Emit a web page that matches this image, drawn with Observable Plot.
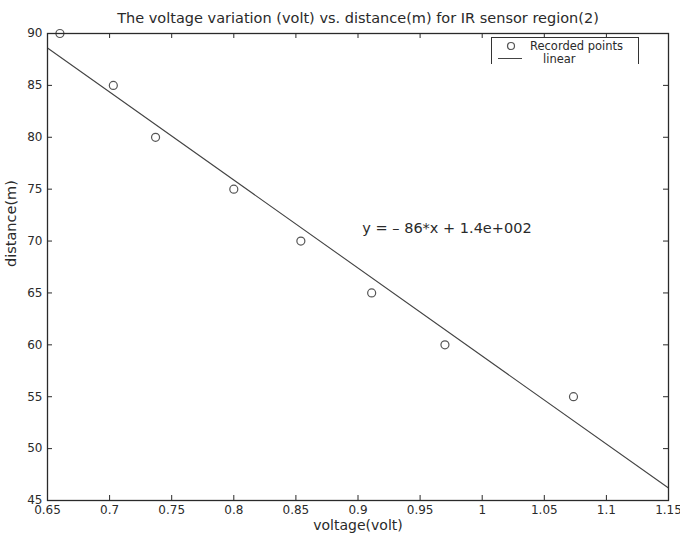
<!DOCTYPE html>
<html><head><meta charset="utf-8">
<script src="https://cdn.jsdelivr.net/npm/d3@7"></script>
<script src="https://cdn.jsdelivr.net/npm/@observablehq/plot@0.6"></script>
<style>
body{margin:0;background:#fff;font-family:"DejaVu Sans",sans-serif}
#wrap{position:relative;width:680px;height:539px}
#legend{position:absolute;left:491px;top:37px;width:146px;height:26px;border:1px solid #333;border-bottom:none;background:#fff;color:#222}
</style>
</head><body><div id="wrap"><div id="chart"></div><div id="legend"></div></div>
<script>
// data
const voltage = [0.66, 0.703, 0.737, 0.80, 0.854, 0.911, 0.970, 1.0735];
const distance = [90, 85, 80, 75, 70, 65, 60, 55];
const fitVoltage = [0.65, 1.15];
const fitDistance = [88.6, 46.2];
const xTicks = [0.65, 0.7, 0.75, 0.8, 0.85, 0.9, 0.95, 1, 1.05, 1.1, 1.15];
const xTickLabels = ["0.65","0.7","0.75","0.8","0.85","0.9","0.95","1","1.05","1.1","1.15"];
const yTicks = [45, 50, 55, 60, 65, 70, 75, 80, 85, 90];
const yTickLabels = ["45","50","55","60","65","70","75","80","85","90"];
const titleText = "The voltage variation (volt) vs. distance(m) for IR sensor region(2)";
const xLabel = "voltage(volt)";
const yLabel = "distance(m)";
const equationText = "y = \u2013 86*x + 1.4e+002";
const equationX = 0.9035;
const equationY = 71.2;
const legendLabels = ["Recorded points", "linear"];

const points = voltage.map((v, i) => ({v, d: distance[i]}));
const fit = fitVoltage.map((v, i) => ({v, d: fitDistance[i]}));

const W = 680, H = 539, mt = 33, mb = 39, ml = 47, mr = 12;
const ph = H - mt - mb, pw = W - ml - mr;
const ink = "#2a2a2a";
const font = "'DejaVu Sans', sans-serif";

const chart = Plot.plot({
  width: W, height: H,
  marginTop: mt, marginBottom: mb, marginLeft: ml, marginRight: mr,
  x: {domain: [0.65, 1.15]},
  y: {domain: [45, 90]},
  style: {fontFamily: font, fontSize: "12px", color: ink, background: "#fff"},
  marks: [
    Plot.line(fit, {x: "v", y: "d", stroke: "#444", strokeWidth: 1.1}),
    Plot.dot(points, {x: "v", y: "d", r: 4, stroke: "#555", strokeWidth: 1.2, fill: "none"}),
    Plot.frame({stroke: ink, strokeWidth: 1.3}),
    Plot.ruleX(xTicks, {x: d => d, insetTop: ph - 5, stroke: ink}),
    Plot.ruleX(xTicks, {x: d => d, insetBottom: ph - 5, stroke: ink}),
    Plot.ruleY(yTicks, {y: d => d, insetRight: pw - 5, stroke: ink}),
    Plot.ruleY(yTicks, {y: d => d, insetLeft: pw - 5, stroke: ink}),
    Plot.axisX({ticks: xTicks, tickFormat: d => xTickLabels[xTicks.indexOf(d)], tickSize: 0, tickPadding: 5, label: null, fill: ink}),
    Plot.axisY({ticks: yTicks, tickFormat: d => yTickLabels[yTicks.indexOf(d)], tickSize: 0, tickPadding: 5, label: null, fill: ink}),
    Plot.text([equationText], {x: () => equationX, y: () => equationY, text: d => d, textAnchor: "start", fontSize: 14.5, fill: ink}),
    Plot.text([titleText], {frameAnchor: "top", text: d => d, dy: -21, fontSize: 14.5, fill: ink}),
    Plot.text([xLabel], {frameAnchor: "bottom", text: d => d, dy: 29, fontSize: 14, fill: ink}),
    Plot.text([yLabel], {frameAnchor: "left", text: d => d, dx: -36, rotate: -90, fontSize: 14.5, fill: ink})
  ]
});
document.getElementById("chart").appendChild(chart);

// legend
const lg = d3.select("#legend").append("svg").attr("width", 146).attr("height", 26)
  .style("font-family", font).style("font-size", "11.5px");
lg.append("circle").attr("cx", 19).attr("cy", 8).attr("r", 3.5).attr("fill", "none").attr("stroke", "#555").attr("stroke-width", 1.2);
lg.append("text").attr("x", 38).attr("y", 12).attr("fill", ink).text(legendLabels[0]);
lg.append("line").attr("x1", 6).attr("x2", 30).attr("y1", 20.5).attr("y2", 20.5).attr("stroke", "#444");
lg.append("text").attr("x", 51).attr("y", 24.5).attr("fill", ink).text(legendLabels[1]);
</script>
</body></html>
